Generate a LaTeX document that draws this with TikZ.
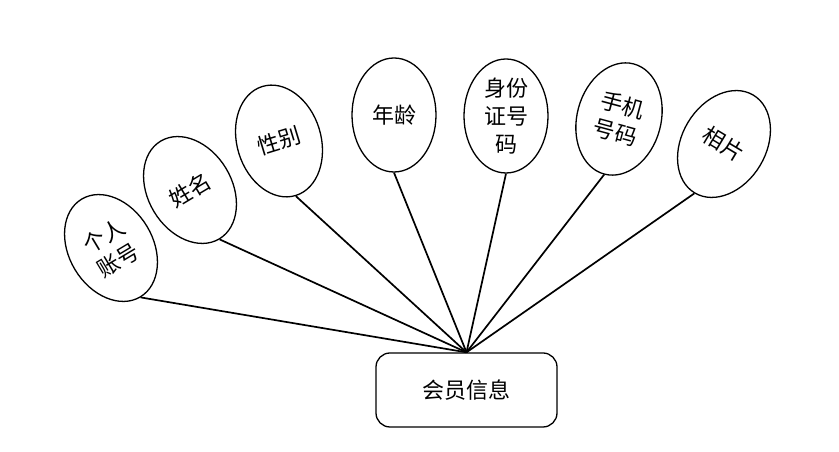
\documentclass[tikz,border=0pt]{standalone}
\usepackage{fontspec}
\newfontfamily\cjk{Noto Sans CJK SC}
\usepackage{tikz}
\usetikzlibrary{shapes.geometric}

\begin{document}
\begin{tikzpicture}[
    x=1pt, y=1pt,
    every node/.style={font=\cjk\fontsize{22}{28}\selectfont, align=center, text=black},
    attr/.style={
      ellipse, draw=black, fill=white, line width=1.3pt,
      minimum width=84pt, minimum height=114pt, inner sep=0pt
    },
    entity/.style={
      rectangle, rounded corners=14pt, draw=black, fill=white,
      line width=1.3pt, minimum width=181pt, minimum height=74pt
    },
    link/.style={draw=black, line width=1.7pt}
  ]
    \useasboundingbox (0,0) rectangle (839,452);

    \node[entity] (info) at (466.5,62) {会员信息};

    \node[attr, rotate=31] (acct) at (111,204) {个人\\账号};
    \node[attr, rotate=31] (name) at (190,262) {姓名};
    \node[attr, rotate=17] (sex) at (279,311) {性别};
    \node[attr] (age) at (394,337) {年龄};
    \node[attr] (idno) at (506,336) {身份\\证号\\码};
    \node[attr, rotate=-15] (phone) at (619,333) {手机\\号码};
    \node[attr, rotate=-31] (photo) at (724,308) {相片};

    \draw[link] (info.north) -- (acct.south);
    \draw[link] (info.north) -- (name.south);
    \draw[link] (info.north) -- (sex.south);
    \draw[link] (info.north) -- (age.south);
    \draw[link] (info.north) -- (idno.south);
    \draw[link] (info.north) -- (phone.south);
    \draw[link] (info.north) -- (photo.south);
  \end{tikzpicture}
\end{document}
